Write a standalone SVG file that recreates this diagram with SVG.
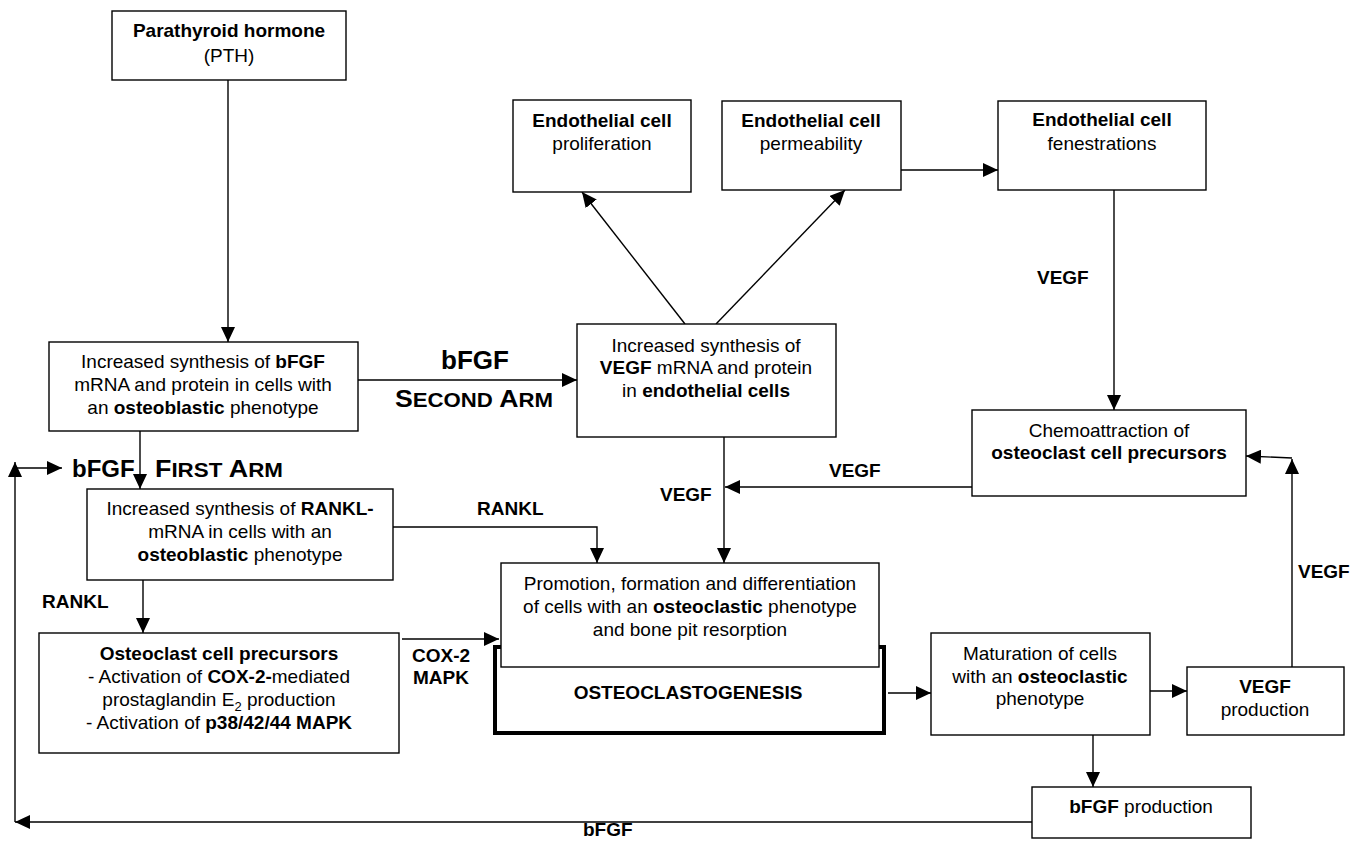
<svg xmlns="http://www.w3.org/2000/svg" width="1360" height="847" viewBox="0 0 1360 847">
<defs>
<marker id="ah" markerUnits="userSpaceOnUse" markerWidth="16" markerHeight="14" refX="15" refY="7" orient="auto">
<path d="M0,0 L15,7 L0,14 z" fill="#000"/>
</marker>
<style>
.box{fill:#fff;stroke:#000;stroke-width:1.4}
.thick{fill:#fff;stroke:#000;stroke-width:4}
.t{font-family:"Liberation Sans",Arial,sans-serif;font-size:19px;text-anchor:middle;fill:#000}
.l{font-family:"Liberation Sans",Arial,sans-serif;font-size:19px;font-weight:bold;fill:#000}
.b{font-weight:bold}
.c{stroke:#000;stroke-width:1.4;fill:none;marker-end:url(#ah)}
</style>
</defs>
<rect width="1360" height="847" fill="#fff"/>

<g id="connectors">
<path class="c" d="M228 80 V342"/>
<path class="c" d="M140 431 V489"/>
<path class="c" d="M358 380 H577"/>
<path class="c" d="M685 324 L582 192"/>
<path class="c" d="M716 324 L845 190"/>
<path class="c" d="M901 170 H998"/>
<path class="c" d="M1114 190 V410"/>
<path class="c" d="M724 437 V563"/>
<path class="c" d="M972 487 H725"/>
<path class="c" d="M393 527 H597 V563"/>
<path class="c" d="M143 580 V633"/>
<path class="c" d="M402 639 H499"/>
<path class="c" d="M888 693 H931"/>
<path class="c" d="M1147 691 H1187"/>
<path class="c" d="M1093 735 V787"/>
<path class="c" d="M1292 667 V459"/>
<path class="c" d="M1292 458 L1246 456"/>
<path class="c" d="M1032 822 H15"/>
<path class="c" d="M15 822 V462"/>
<path class="c" d="M15 468 H62"/>
</g>

<g id="labels">
<text class="l" x="441" y="369" style="font-size:26px">bFGF</text>
<text class="l" x="395" y="407" textLength="158" lengthAdjust="spacingAndGlyphs"><tspan style="font-size:24px">S</tspan><tspan style="font-size:20px">ECOND</tspan><tspan style="font-size:24px"> A</tspan><tspan style="font-size:20px">RM</tspan></text>
<text class="l" x="72" y="477" style="font-size:24px">bFGF</text>
<text class="l" x="155" y="477" textLength="128" lengthAdjust="spacingAndGlyphs"><tspan style="font-size:24px">F</tspan><tspan style="font-size:20px">IRST</tspan><tspan style="font-size:24px"> A</tspan><tspan style="font-size:20px">RM</tspan></text>
<text class="l" x="1037" y="284">VEGF</text>
<text class="l" x="829" y="477">VEGF</text>
<text class="l" x="660" y="501">VEGF</text>
<text class="l" x="477" y="515">RANKL</text>
<text class="l" x="42" y="608">RANKL</text>
<text class="l" x="441" y="662" text-anchor="middle">COX-2</text>
<text class="l" x="441" y="684" text-anchor="middle">MAPK</text>
<text class="l" x="1298" y="578">VEGF</text>
<text class="l" x="583" y="836">bFGF</text>
</g>

<g id="pth">
<rect class="box" x="112" y="11" width="234" height="69"/>
<text class="t b" x="229" y="37">Parathyroid hormone</text>
<text class="t" x="229" y="62">(PTH)</text>
</g>

<g id="bfgf-synthesis">
<rect class="box" x="49" y="342" width="309" height="89"/>
<text class="t" x="203" y="368">Increased synthesis of <tspan class="b">bFGF</tspan></text>
<text class="t" x="203" y="391">mRNA and protein in cells with</text>
<text class="t" x="203" y="414">an <tspan class="b">osteoblastic</tspan> phenotype</text>
</g>

<g id="vegf-synthesis">
<rect class="box" x="577" y="324" width="259" height="113"/>
<text class="t" x="706" y="352">Increased synthesis of</text>
<text class="t" x="706" y="374"><tspan class="b">VEGF</tspan> mRNA and protein</text>
<text class="t" x="706" y="397">in <tspan class="b">endothelial cells</tspan></text>
</g>

<g id="endo-proliferation">
<rect class="box" x="513" y="100" width="178" height="92"/>
<text class="t b" x="602" y="127">Endothelial cell</text>
<text class="t" x="602" y="150">proliferation</text>
</g>

<g id="endo-permeability">
<rect class="box" x="722" y="101" width="179" height="89"/>
<text class="t b" x="811" y="127">Endothelial cell</text>
<text class="t" x="811" y="150">permeability</text>
</g>

<g id="endo-fenestrations">
<rect class="box" x="998" y="101" width="208" height="89"/>
<text class="t b" x="1102" y="126">Endothelial cell</text>
<text class="t" x="1102" y="150">fenestrations</text>
</g>

<g id="chemoattraction">
<rect class="box" x="972" y="410" width="274" height="86"/>
<text class="t" x="1109" y="437">Chemoattraction of</text>
<text class="t b" x="1109" y="459">osteoclast cell precursors</text>
</g>

<g id="rankl-synthesis">
<rect class="box" x="87" y="489" width="306" height="91"/>
<text class="t" x="240" y="515">Increased synthesis of <tspan class="b">RANKL-</tspan></text>
<text class="t" x="240" y="538">mRNA in cells with an</text>
<text class="t" x="240" y="561"><tspan class="b">osteoblastic</tspan> phenotype</text>
</g>

<g id="osteoclastogenesis">
<rect class="thick" x="495" y="647" width="389" height="86"/>
<text class="t b" x="688" y="699">OSTEOCLASTOGENESIS</text>
</g>

<g id="promotion">
<rect class="box" x="501" y="563" width="378" height="104"/>
<text class="t" x="690" y="590">Promotion, formation and differentiation</text>
<text class="t" x="690" y="613">of cells with an <tspan class="b">osteoclastic</tspan> phenotype</text>
<text class="t" x="690" y="636">and bone pit resorption</text>
</g>

<g id="osteoclast-precursors">
<rect class="box" x="39" y="633" width="360" height="120"/>
<text class="t b" x="219" y="660">Osteoclast cell precursors</text>
<text class="t" x="219" y="683">- Activation of <tspan class="b">COX-2-</tspan>mediated</text>
<text class="t" x="219" y="706">prostaglandin E<tspan style="font-size:13px" dy="5">2</tspan><tspan dy="-5"> production</tspan></text>
<text class="t" x="219" y="729">- Activation of <tspan class="b">p38/42/44 MAPK</tspan></text>
</g>

<g id="maturation">
<rect class="box" x="931" y="633" width="219" height="102"/>
<text class="t" x="1040" y="660">Maturation of cells</text>
<text class="t" x="1040" y="683">with an <tspan class="b">osteoclastic</tspan></text>
<text class="t" x="1040" y="705">phenotype</text>
</g>

<g id="vegf-production">
<rect class="box" x="1187" y="667" width="157" height="68"/>
<text class="t b" x="1265" y="693">VEGF</text>
<text class="t" x="1265" y="716">production</text>
</g>

<g id="bfgf-production">
<rect class="box" x="1032" y="787" width="219" height="51"/>
<text class="t" x="1141" y="813"><tspan class="b">bFGF</tspan> production</text>
</g>
</svg>
